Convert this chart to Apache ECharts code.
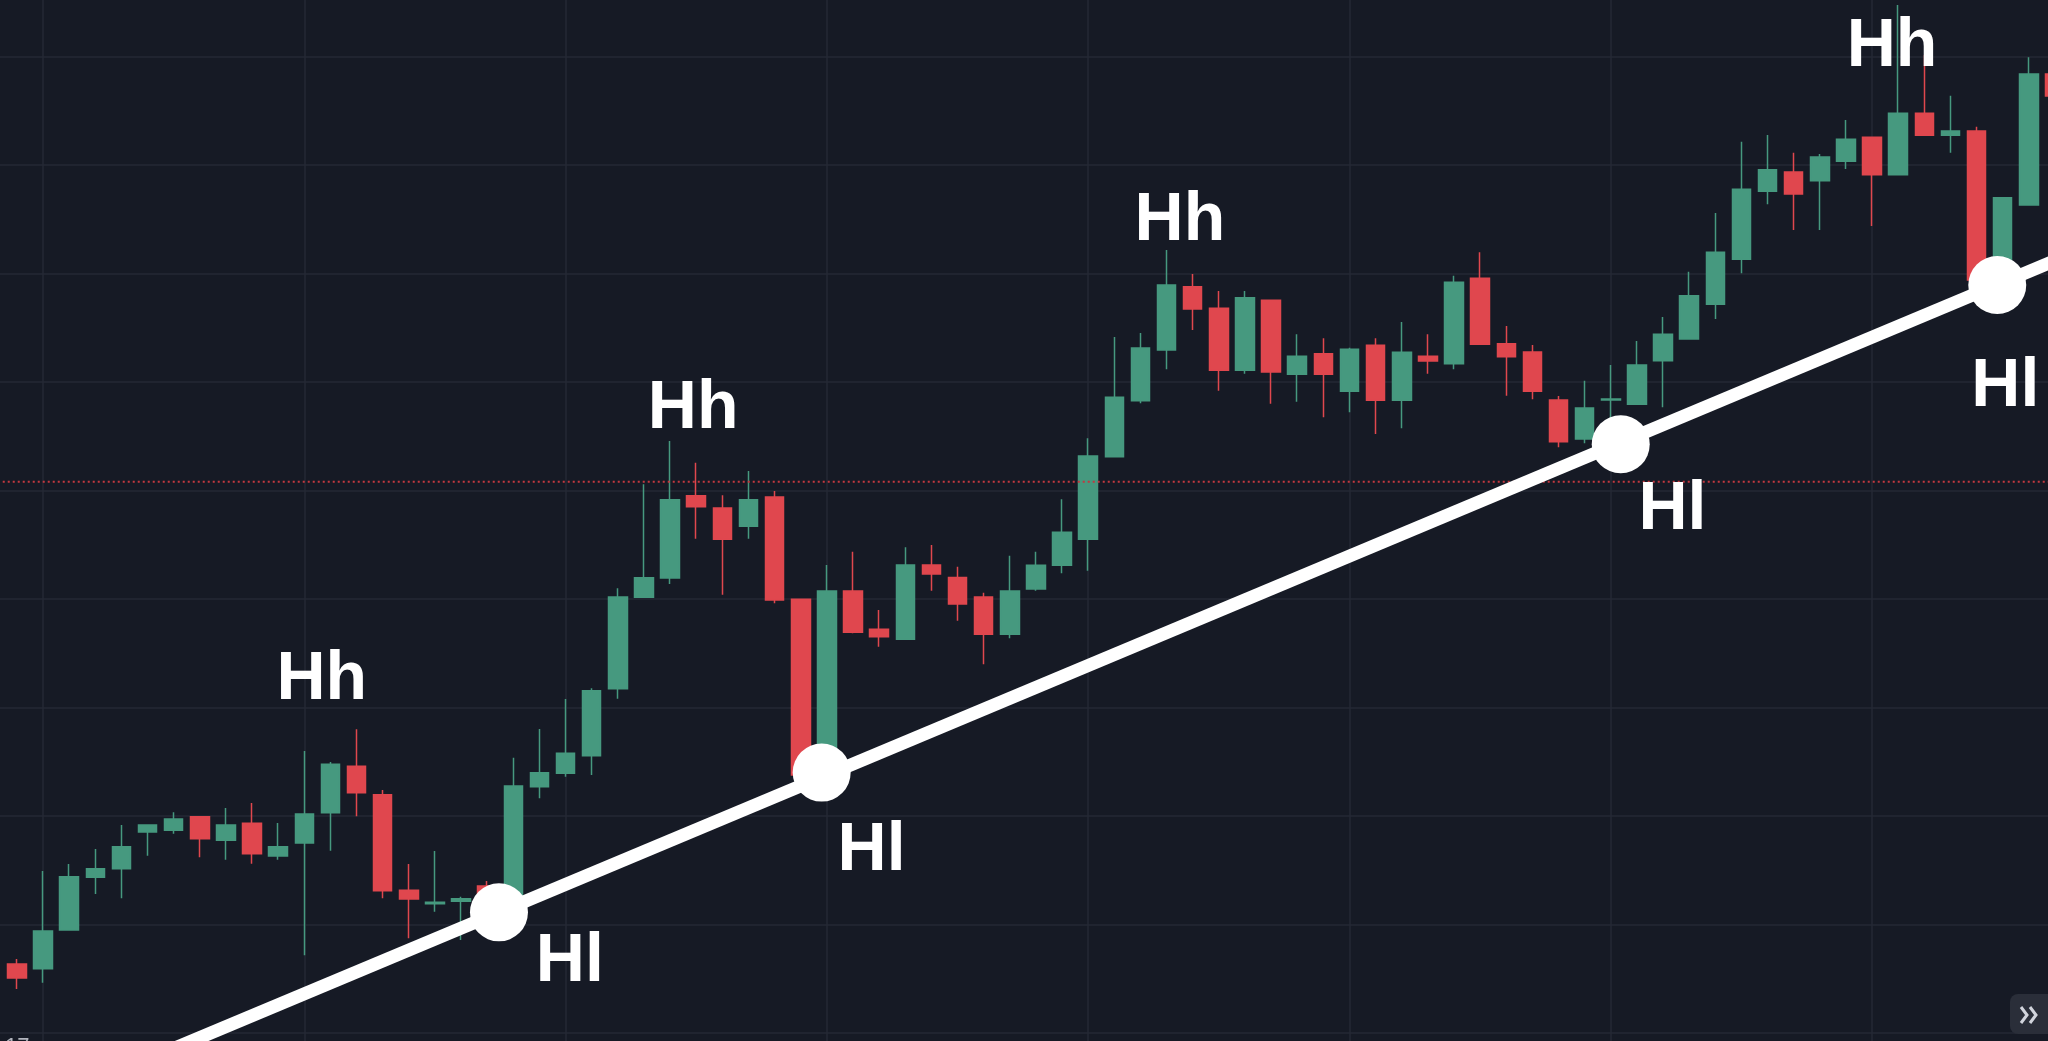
<!DOCTYPE html>
<html>
<head>
<meta charset="utf-8">
<title>Hh / Hl trend</title>
<script src="https://cdn.jsdelivr.net/npm/echarts@6/dist/echarts.min.js"></script>
<style>
  html, body { margin: 0; padding: 0; background: #161a25; overflow: hidden; }
  #container { width: 2048px; height: 1041px; }
</style>
</head>
<body>
<div id="container"></div>
<script>
// bar position k runs from -2 to 77, a vertical grid line every 10 bars
var bars = [];
for (var k = -2; k <= 77; k++) bars.push(k);

var opens = [
  108.11, 106.36, 105.93, 109.49, 114.35, 115.14, 118.53, 118.68, 119.94, 117.76,
  119.33, 116.31, 117.51, 120.30, 124.58, 121.96, 113.15, 111.92, 112.14, 113.55,
  112.72, 122.70, 123.94, 125.56, 131.73, 140.16, 141.94, 149.52, 148.39, 146.70,
  149.40, 139.97, 123.32, 140.74, 137.21, 136.29, 143.13, 141.98, 140.18, 136.75,
  140.92, 143.11, 145.50, 153.12, 158.28, 162.95, 168.78, 166.79, 161.08, 167.53,
  160.71, 162.61, 159.14, 163.38, 158.31, 162.37, 161.69, 169.56, 163.53, 162.76,
  158.34, 154.75, 158.34, 157.94, 161.96, 163.96, 167.16, 171.31, 177.58, 179.35,
  178.55, 180.34, 182.55, 179.11, 184.76, 182.74, 183.13, 170.32, 176.31, 188.39
];
var closes = [
  106.08, 105.07, 109.40, 114.41, 115.14, 117.17, 119.17, 119.72, 117.91, 119.17,
  116.53, 117.17, 120.18, 124.76, 122.15, 113.12, 112.35, 112.05, 112.38, 111.15,
  122.76, 123.99, 125.78, 131.55, 140.18, 141.96, 149.15, 148.51, 145.50, 149.15,
  139.91, 123.78, 140.74, 136.93, 136.53, 143.13, 142.30, 139.54, 136.75, 140.74,
  143.11, 146.15, 153.18, 158.59, 163.13, 168.94, 166.73, 161.08, 167.77, 160.92,
  162.37, 160.71, 163.01, 158.31, 162.74, 161.94, 169.19, 163.47, 162.33, 159.14,
  154.50, 157.60, 158.43, 161.57, 164.40, 167.95, 171.95, 177.76, 179.57, 177.33,
  180.74, 182.37, 179.11, 184.76, 182.74, 183.13, 169.40, 176.99, 188.39, 186.36
];
var lows = [
  105.35, 104.06, 104.64, 109.45, 112.81, 112.41, 116.34, 118.37, 116.19, 115.97,
  115.60, 115.97, 107.16, 116.80, 119.97, 112.41, 108.73, 111.18, 108.57, 109.95,
  112.26, 121.63, 123.62, 123.78, 130.81, 140.16, 141.38, 145.56, 140.40, 145.56,
  139.60, 123.32, 122.86, 136.84, 135.60, 136.29, 140.76, 138.00, 133.98, 136.38,
  140.76, 142.37, 142.61, 153.12, 158.04, 161.17, 164.79, 159.20, 160.76, 158.00,
  158.18, 156.75, 157.21, 155.21, 155.73, 160.76, 161.17, 163.47, 158.74, 158.41,
  153.98, 154.35, 156.68, 157.94, 157.67, 163.96, 165.81, 170.02, 176.38, 174.01,
  174.01, 179.63, 174.38, 179.11, 182.74, 181.13, 168.94, 169.86, 176.31, 185.99
];
var highs = [
  108.57, 106.82, 114.93, 115.58, 116.96, 119.17, 119.17, 120.34, 119.94, 120.74,
  121.20, 119.35, 125.99, 124.98, 127.99, 122.40, 115.58, 116.77, 112.56, 114.01,
  125.37, 128.02, 130.78, 131.77, 140.99, 150.57, 154.56, 152.56, 149.56, 151.80,
  149.95, 139.97, 143.13, 144.36, 138.99, 144.76, 144.98, 142.98, 140.58, 143.99,
  144.36, 149.19, 154.81, 164.15, 164.52, 172.17, 169.95, 168.39, 168.39, 167.53,
  164.40, 164.03, 163.16, 164.03, 165.53, 164.40, 169.80, 171.95, 165.16, 163.41,
  158.71, 160.12, 161.57, 163.78, 165.99, 170.17, 175.58, 182.15, 182.76, 181.13,
  181.01, 184.15, 182.55, 194.75, 190.14, 186.39, 183.53, 176.99, 189.93, 188.76
];

// swing lows sitting on the trend line (bar position, price)
var hlBars = [17.45, 29.80, 60.38, 74.79];
var hlPrices = [111.12, 124.00, 154.26, 168.94];

// trend line ends
var trendBars = [4.1, 78.7];
var trendPrices = [97.66, 172.90];

// text anchors
var hhBars = [10.67, 24.88, 43.51, 70.76];
var hhPrices = [132.5, 157.45, 174.8, 190.86];
var hlLabelBars = [20.16, 31.71, 62.36, 75.10];
var hlLabelPrices = [106.53, 116.71, 148.19, 159.47];

var lastPrice = 150.81;

// visible window of the chart
var barMin = -1.6456, barMax = 76.732;
var priceMin = 99.263, priceMax = 195.207;

var candles = bars.map(function (b, i) {
    return [b, opens[i], closes[i], lows[i], highs[i]];
});
var trend = trendBars.map(function (b, i) { return [b, trendPrices[i]]; });
var hlPoints = hlBars.map(function (b, i) { return [b, hlPrices[i]]; });
var labels = [];
hhBars.forEach(function (b, i) { labels.push({ value: [b, hhPrices[i]], name: 'Hh' }); });
hlLabelBars.forEach(function (b, i) { labels.push({ value: [b, hlLabelPrices[i]], name: 'Hl' }); });

var gridColor = '#252935';
var up = '#46997f';
var down = '#e0474e';

var chart = echarts.init(document.getElementById('container'));
var option = {
    backgroundColor: '#161a25',
    animation: false,
    grid: { left: 0, right: 0, top: 0, bottom: 0 },
    xAxis: {
        type: 'value', min: barMin, max: barMax,
        minInterval: 10, maxInterval: 10,
        axisLine: { show: false }, axisTick: { show: false }, axisLabel: { show: false },
        splitLine: { show: true, showMinLine: false, showMaxLine: false, lineStyle: { color: gridColor, width: 1.5 } }
    },
    yAxis: {
        type: 'value', min: priceMin, max: priceMax,
        minInterval: 10, maxInterval: 10,
        axisLine: { show: false }, axisTick: { show: false }, axisLabel: { show: false },
        splitLine: { show: true, showMinLine: false, showMaxLine: false, lineStyle: { color: gridColor, width: 1.5 } }
    },
    series: [
        {
            type: 'candlestick',
            data: candles,
            barWidth: 19,
            z: 2,
            itemStyle: {
                color: up, color0: down,
                borderColor: up, borderColor0: down,
                borderWidth: 1.5
            }
        },
        {
            // last price line
            type: 'line',
            data: [[barMin - 2, lastPrice], [barMax + 2, lastPrice]],
            symbol: 'none',
            z: 3,
            lineStyle: { color: '#c4383f', width: 2, type: [2, 3] }
        },
        {
            type: 'line',
            data: trend,
            symbol: 'none',
            z: 4,
            lineStyle: { color: '#ffffff', width: 13 }
        },
        {
            type: 'scatter',
            data: hlPoints,
            symbol: 'circle',
            symbolSize: 58,
            z: 5,
            itemStyle: { color: '#ffffff', opacity: 1 }
        },
        {
            type: 'scatter',
            data: labels,
            symbolSize: 1,
            z: 6,
            itemStyle: { color: 'rgba(0,0,0,0)', opacity: 1 },
            label: {
                show: true,
                position: 'inside',
                formatter: function (p) { return p.name; },
                color: '#ffffff',
                opacity: 1,
                fontSize: 68,
                fontWeight: 'bold',
                fontFamily: '"Liberation Sans", Arial, sans-serif'
            }
        }
    ],
    graphic: [
        {
            type: 'text', left: 5, top: 1036, z: 10,
            style: { text: '17', fill: '#b2b5be', fontSize: 22, fontFamily: '"Liberation Sans", Arial, sans-serif' }
        },
        {
            type: 'rect', z: 10,
            shape: { x: 2010, y: 994, width: 50, height: 40, r: 8 },
            style: { fill: '#2a2e39' }
        },
        {
            type: 'polyline', z: 11,
            shape: { points: [[2021, 1007], [2027, 1015], [2021, 1023]] },
            style: { stroke: '#d1d4dc', lineWidth: 3, fill: null }
        },
        {
            type: 'polyline', z: 11,
            shape: { points: [[2030, 1007], [2036, 1015], [2030, 1023]] },
            style: { stroke: '#d1d4dc', lineWidth: 3, fill: null }
        }
    ]
};
chart.setOption(option);
</script>
</body>
</html>
